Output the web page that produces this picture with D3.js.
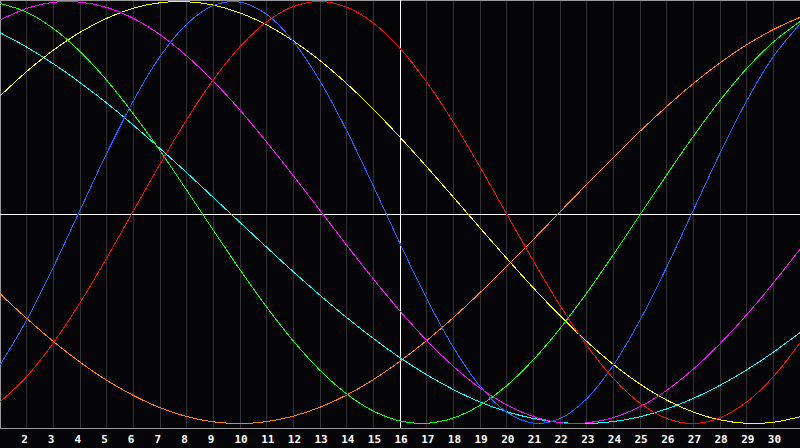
<!DOCTYPE html>
<html>
<head>
<meta charset="utf-8">
<script src="https://cdn.jsdelivr.net/npm/d3@7"></script>
<style>
  html, body { margin: 0; padding: 0; background: #050508; }
  svg { display: block; }
</style>
</head>
<body>
<svg id="chart" width="800" height="448"></svg>
<script>
// days shown (day 1 sits on the left edge, day 31 on the right edge)
const days = d3.range(1, 32);
const tickDays = d3.range(2, 31);
const today = 16;

// cycle values in percent, one per day
const physical = [-72.3, -51.0, -25.9, 1.1, 28.0, 52.9, 73.9, 89.3, 98.1, 99.7, 93.9, 81.1, 62.3, 38.8, 12.5, -14.7, -40.8, -63.9, -82.3, -94.6, -99.8, -97.7, -88.3, -72.4, -51.0, -25.9, 1.1, 28.0, 52.9, 73.9, 89.3];
const emotional = [-89.8, -77.8, -61.8, -42.8, -21.6, 0.7, 22.9, 44.0, 62.9, 78.6, 90.4, 97.6, 100.0, 97.3, 89.8, 77.8, 61.8, 42.8, 21.6, -0.7, -22.9, -44.0, -62.9, -78.6, -90.4, -97.6, -100.0, -97.3, -89.8, -77.8, -61.8];
const intellectual = [99.1, 94.9, 87.2, 76.3, 62.7, 46.8, 29.3, 10.6, -8.4, -27.1, -44.8, -60.9, -74.8, -86.0, -94.1, -98.8, -99.9, -97.4, -91.4, -82.1, -69.8, -55.0, -38.2, -20.0, -1.1, 17.8, 36.1, 53.1, 68.2, 80.8, 90.5];
const intuitive = [91.2, 96.7, 99.6, 99.7, 97.2, 92.0, 84.3, 74.2, 62.2, 48.5, 33.4, 17.4, 1.0, -15.5, -31.5, -46.7, -60.6, -72.9, -83.2, -91.2, -96.7, -99.6, -99.7, -97.2, -92.0, -84.3, -74.2, -62.2, -48.5, -33.4, -17.4];
const aesthetic = [55.2, 66.8, 76.9, 85.4, 92.0, 96.8, 99.4, 99.9, 98.3, 94.6, 88.9, 81.3, 72.0, 61.1, 48.9, 35.7, 21.7, 7.3, -7.3, -21.7, -35.7, -48.9, -61.1, -72.0, -81.3, -88.9, -94.6, -98.3, -99.9, -99.4, -96.8];
const awareness = [-38.5, -50.2, -61.1, -70.9, -79.5, -86.7, -92.5, -96.7, -99.2, -100.0, -99.1, -96.5, -92.3, -86.5, -79.2, -70.5, -60.7, -49.8, -38.0, -25.6, -12.8, 0.3, 13.3, 26.1, 38.5, 50.2, 61.1, 70.9, 79.5, 86.7, 92.5];
const spiritual = [85.2, 78.4, 70.5, 61.6, 51.9, 41.4, 30.3, 18.9, 7.1, -4.7, -16.5, -28.1, -39.2, -49.8, -59.7, -68.8, -76.9, -83.9, -89.8, -94.4, -97.6, -99.5, -100.0, -99.1, -96.8, -93.1, -88.1, -81.9, -74.6, -66.2, -56.9];

const series = [
  { name: "awareness", values: awareness, color: "#ff8000" },
  { name: "spiritual", values: spiritual, color: "#00ffff" },
  { name: "aesthetic", values: aesthetic, color: "#ffff00" },
  { name: "intuitive", values: intuitive, color: "#ff00ff" },
  { name: "intellectual", values: intellectual, color: "#00ff00" },
  { name: "physical", values: physical, color: "#1464ff" },
  { name: "emotional", values: emotional, color: "#ff0000" }
];

const width = 800, plotBottom = 428;

const svg = d3.select("#chart");

const x = d3.scaleLinear().domain([1, 31]).range([0, 800]);
const y = d3.scaleLinear().domain([-100, 100]).range([423.5, 1.5]);
const px = v => Math.floor(v) + 0.5;

svg.append("rect")
  .attr("width", width)
  .attr("height", 448)
  .attr("fill", "#050508");

// day grid
svg.append("g")
  .selectAll("line")
  .data(tickDays)
  .join("line")
  .attr("x1", d => px(x(d)))
  .attr("x2", d => px(x(d)))
  .attr("y1", 0)
  .attr("y2", plotBottom)
  .attr("stroke", "#333335")
  .attr("shape-rendering", "crispEdges");

// frame
const frame = svg.append("g")
  .attr("stroke", "#9a9a9a")
  .attr("shape-rendering", "crispEdges");
frame.append("line").attr("x1", 0).attr("x2", width).attr("y1", 0.5).attr("y2", 0.5);
frame.append("line").attr("x1", 0.5).attr("x2", 0.5).attr("y1", 0).attr("y2", plotBottom);
frame.append("line").attr("x1", 0).attr("x2", width).attr("y1", plotBottom + 0.5).attr("y2", plotBottom + 0.5);

// zero line and today marker
svg.append("line")
  .attr("x1", 0).attr("x2", width)
  .attr("y1", 214.5).attr("y2", 214.5)
  .attr("stroke", "#ffffff")
  .attr("shape-rendering", "crispEdges");
svg.append("line")
  .attr("x1", px(x(today))).attr("x2", px(x(today)))
  .attr("y1", 0).attr("y2", plotBottom)
  .attr("stroke", "#ffffff")
  .attr("shape-rendering", "crispEdges");

const line = d3.line()
  .x((d, i) => x(days[i]))
  .y(d => y(d))
  .curve(d3.curveCatmullRom.alpha(0.5));

svg.append("g")
  .selectAll("path")
  .data(series)
  .join("path")
  .attr("d", s => line(s.values))
  .attr("fill", "none")
  .attr("stroke", s => s.color)
  .attr("stroke-width", 1)
  .attr("shape-rendering", "crispEdges");

// day labels
svg.append("g")
  .selectAll("text")
  .data(tickDays)
  .join("text")
  .attr("x", d => x(d) - 5.5)
  .attr("y", 443)
  .attr("fill", "#ffffff")
  .attr("font-family", "'DejaVu Sans Mono', monospace")
  .attr("font-weight", "bold")
  .attr("font-size", 11)
  .text(d => d);
</script>
</body>
</html>
